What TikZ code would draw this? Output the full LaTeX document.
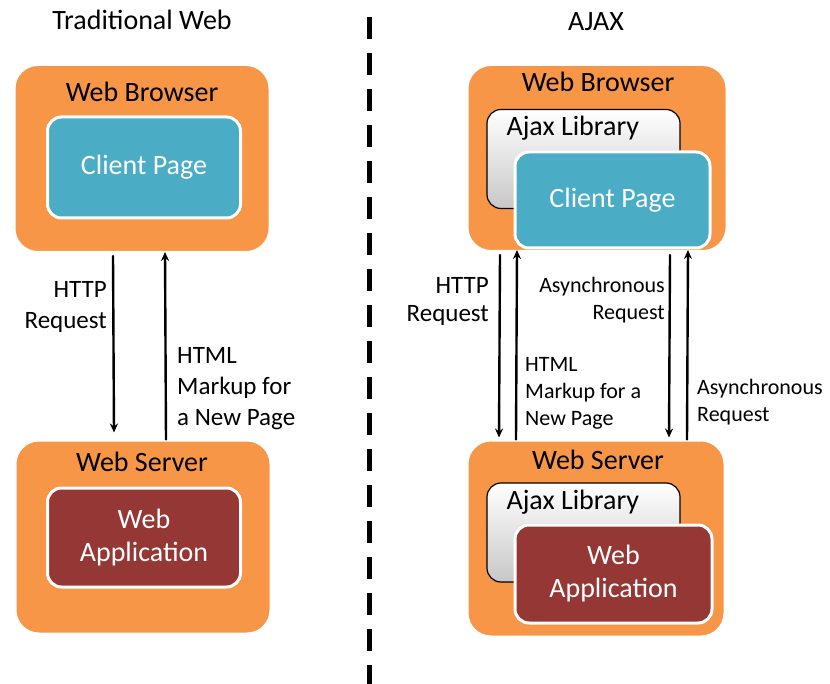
\documentclass[tikz,border=0pt]{standalone}
\usepackage{fontspec}
\setmainfont{Carlito}
\usetikzlibrary{arrows.meta,shadows}
\definecolor{tierorange}{HTML}{F79646}
\definecolor{pageaqua}{HTML}{4BACC6}
\definecolor{appred}{HTML}{953735}
\definecolor{libgray}{HTML}{D9D9D9}
\begin{document}
\begin{tikzpicture}[x=1pt, y=-1pt, line cap=round, line join=round, >={Stealth[length=9, width=8]},
	tier/.style={rectangle, rounded corners=24, fill=tierorange, draw=white, line width=3, minimum width=256, minimum height=188, drop shadow={opacity=0.2, shadow xshift=1, shadow yshift=-1}},
	inner/.style={rectangle, rounded corners=14, draw=white, line width=3, text=white, font=\fontsize{28}{33}\selectfont, align=center, drop shadow={opacity=0.3, shadow xshift=1.5, shadow yshift=-1.5}},
	lib/.style={rectangle, rounded corners=14, draw=black, line width=1.2, top color=white, bottom color=libgray!80!gray, minimum width=193, minimum height=99},
	head/.style={font=\fontsize{28}{33}\selectfont},
	lbl/.style={font=\fontsize{22}{27}\selectfont, inner sep=0},
	biglbl/.style={font=\fontsize{25}{31}\selectfont, inner sep=0},
	msg/.style={->, line width=2.4}]
\useasboundingbox (0,0) rectangle (830,684);
% left: traditional web
\node[head] (tradT) at (142,20) {Traditional Web};
\node[tier] (brL) at (142,158.5) {};
\node[head] (brLT) at (142,92) {Web Browser};
\node[inner, fill=pageaqua, minimum width=193, minimum height=101] (pgL) at (144,167.5) {Client Page};
\node[tier, minimum height=194] (svL) at (143,537) {};
\node[head] (svLT) at (142,462) {Web Server};
\node[inner, fill=appred, minimum width=193, minimum height=99] (apL) at (144,537.5) {Web\\Application};
\draw[msg] ([xshift=-29,yshift=-2]brL.south) -- ([xshift=-29,yshift=6]svL.north);
\draw[msg] ([xshift=23,yshift=-1]svL.north) -- ([xshift=23,yshift=2]brL.south);
\node[biglbl, anchor=north east, align=right] (reqL) at (107,281) {HTTP\\Request};
\node[biglbl, anchor=north west, align=left] (resL) at (177,347) {HTML\\Markup for\\a New Page};
% divider
\draw[line width=5, line cap=butt, dash pattern=on 22 off 14] (369,17) -- (369,684);
% right: ajax
\node[head] (ajaxT) at (596,22) {AJAX};
\node[tier, minimum width=260, minimum height=187] (brR) at (597,158) {};
\node[head] (brRT) at (598,82) {Web Browser};
\node[lib] (libB) at (583.5,159) {};
\node[head, anchor=west] (libBT) at (503,128) {Ajax Library};
\node[inner, fill=pageaqua, minimum width=195, minimum height=96] (pgR) at (612.5,200) {Client Page};
\node[tier, minimum width=258, minimum height=197] (svR) at (596,538.5) {};
\node[head] (svRT) at (598,460) {Web Server};
\node[lib] (libS) at (583.5,532.5) {};
\node[head, anchor=west] (libST) at (503,502) {Ajax Library};
\node[inner, fill=appred, minimum width=197, minimum height=98] (apR) at (613.5,574) {Web\\Application};
\draw[msg] ([xshift=-97,yshift=-2]brR.south) -- ([xshift=-97,yshift=1]svR.north);
\draw[msg] ([xshift=-80,yshift=-1]svR.north) -- ([xshift=-80,yshift=3]brR.south);
\draw[msg] ([xshift=73,yshift=-2]brR.south) -- ([xshift=73,yshift=1]svR.north);
\draw[msg] ([xshift=91,yshift=-1]svR.north) -- ([xshift=91,yshift=3]brR.south);
\node[biglbl, anchor=north east, align=right, font=\fontsize{25}{28}\selectfont] (reqR) at (489,277) {HTTP\\Request};
\node[lbl, anchor=north east, align=right] (asyR) at (665,277) {Asynchronous\\Request};
\node[lbl, anchor=north west, align=left] (resR) at (525,357) {HTML\\Markup for a\\New Page};
\node[lbl, anchor=north west, align=left] (asyS) at (697,379) {Asynchronous\\Request};
\end{tikzpicture}
\end{document}
